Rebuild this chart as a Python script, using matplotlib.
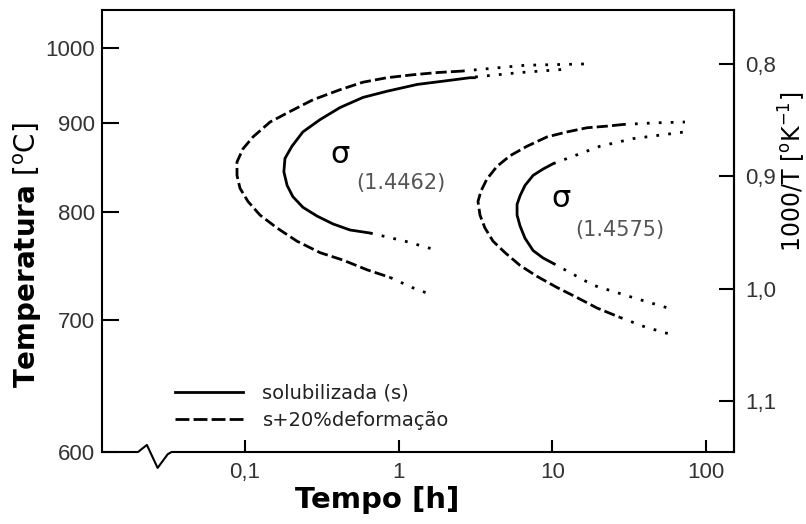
import matplotlib.pyplot as plt
import numpy as np
from matplotlib.lines import Line2D

# TTT curves for sigma phase, time in hours, temperature in deg C
# curve 1 (1.4462)
sol1_t = [3.14, 2.91, 2.06, 1.32, 0.839, 0.586, 0.415, 0.308, 0.238, 0.202, 0.182, 0.179,
          0.188, 0.205, 0.238, 0.294, 0.374, 0.482, 0.651]
sol1_T = [958, 958, 954, 949, 940, 932, 919, 904, 889, 872, 858, 843,
          828, 816, 805, 796, 788, 782, 779]
sol1_up_t = [3.14, 6.15, 13.0]
sol1_up_T = [959, 965, 970]
sol1_lo_t = [0.651, 1.10, 1.80]
sol1_lo_T = [779, 771, 762]

def1_t = [2.58, 1.78, 1.24, 0.839, 0.586, 0.415, 0.277, 0.196, 0.1455, 0.1127, 0.0970,
          0.0887, 0.0887, 0.0928, 0.1046, 0.1252, 0.1615, 0.218, 0.308, 0.434, 0.622, 0.878]
def1_T = [967, 965, 962, 958, 952, 942, 929, 914, 901, 883, 869,
          854, 839, 825, 811, 797, 784, 771, 760, 753, 744, 737]
def1_up_t = [2.58, 6.63, 17.6]
def1_up_T = [967, 975, 977]
def1_lo_t = [0.878, 1.22, 1.67]
def1_lo_T = [737, 728, 721]

# curve 2 (1.4575)
sol2_t = [10.1, 8.69, 7.49, 6.63, 6.16, 5.89, 5.89, 6.16, 6.63, 7.49, 8.69, 10.1]
sol2_T = [852, 846, 839, 828, 817, 808, 797, 786, 774, 762, 755, 750]
sol2_up_t = [10.1, 20.4, 33.5, 72.9]
sol2_up_T = [852, 872, 881, 889]
sol2_lo_t = [10.1, 18.4, 33.5, 56.5]
sol2_lo_T = [750, 730, 719, 710]

def2_t = [28.8, 22.7, 16.8, 12.45, 9.22, 6.83, 5.30, 4.36, 3.75, 3.43, 3.28, 3.38,
          3.64, 4.11, 4.92, 6.16, 7.94, 10.7, 14.5, 19.5, 27.5]
def2_T = [898, 896, 894, 889, 883, 872, 861, 849, 835, 822, 811, 797,
          784, 771, 760, 748, 738, 728, 719, 710, 702]
def2_up_t = [28.8, 46.6, 72.9]
def2_up_T = [898, 900, 901]
def2_lo_t = [27.5, 40.0, 58.2]
def2_lo_T = [702, 694, 688]

temp_ticks = [600, 700, 800, 900, 1000]
inv_ticks = [0.8, 0.9, 1.0, 1.1]
inv_labels = ['0,8', '0,9', '1,0', '1,1']
time_ticks = [0.1, 1, 10, 100]
time_labels = ['0,1', '1', '10', '100']


def invT(temp_c):
    return 1000.0 / (np.asarray(temp_c, dtype=float) + 273.15)


dash = (0, (4, 1.5))
dot = (0, (1, 3.3))
lw = 2.0

fig = plt.figure(figsize=(8.06, 5.24), dpi=100)
ax = fig.add_axes([102 / 806, 72 / 524, 632 / 806, 442 / 524])

ax.plot(sol1_t, invT(sol1_T), color='black', lw=lw, solid_capstyle='round')
ax.plot(def1_t, invT(def1_T), color='black', lw=lw, linestyle=dash)
ax.plot(sol2_t, invT(sol2_T), color='black', lw=lw, solid_capstyle='round')
ax.plot(def2_t, invT(def2_T), color='black', lw=lw, linestyle=dash)
for tt, TT in [(sol1_up_t, sol1_up_T), (sol1_lo_t, sol1_lo_T), (def1_up_t, def1_up_T),
               (def1_lo_t, def1_lo_T), (sol2_up_t, sol2_up_T), (sol2_lo_t, sol2_lo_T),
               (def2_up_t, def2_up_T), (def2_lo_t, def2_lo_T)]:
    ax.plot(tt, invT(TT), color='black', lw=lw, linestyle=dot)

ax.set_xscale('log')
ax.set_xlim(0.01174, 151.9)
ax.set_ylim(invT(600), 0.752)
ax.minorticks_off()

ax.set_xticks(time_ticks, labels=time_labels)
ax.set_yticks(invT(temp_ticks), labels=[str(t) for t in temp_ticks])
ax.tick_params(axis='x', direction='in', length=9, width=1.5, pad=7,
               labelsize=16, labelcolor='#333333', labelfontfamily='Liberation Sans')
ax.tick_params(axis='y', direction='in', length=12, width=1.5, pad=5,
               labelsize=16, labelcolor='#333333', labelfontfamily='Liberation Sans')

sec = ax.secondary_yaxis('right')
sec.set_yticks(inv_ticks, labels=inv_labels)
sec.tick_params(direction='in', length=11, width=1.5, pad=8, labelsize=16,
                labelcolor='#333333', labelfontfamily='Liberation Sans')
sec.spines['right'].set_linewidth(1.5)

for s in ['left', 'top', 'right']:
    ax.spines[s].set_linewidth(1.5)
ax.spines['bottom'].set_visible(False)

# axis break on the time axis
bx = [0.0, 0.057, 0.071, 0.088, 0.104, 0.110, 1.0]
by = [0.0, 0.0, 0.016, -0.036, -0.005, 0.0, 0.0]
ax.plot(bx, by, color='black', lw=1.5, transform=ax.transAxes, clip_on=False)

ax.text(0.415, invT(863), 'σ', fontsize=22, ha='center', va='center')
ax.text(1.035, invT(831), '(1.4462)', fontsize=15, ha='center', va='center', color='#555555')
ax.text(11.4, invT(814), 'σ', fontsize=22, ha='center', va='center')
ax.text(27.5, invT(782), '(1.4575)', fontsize=15, ha='center', va='center', color='#555555')

handles = [Line2D([], [], color='black', lw=lw),
           Line2D([], [], color='black', lw=lw, linestyle=(0, (5, 1.5)))]
leg = ax.legend(handles, ['solubilizada (s)', 's+20%deformação'], loc='upper left',
                bbox_to_anchor=(0.1155, 0.154), frameon=False, fontsize=14,
                handlelength=3.5, handletextpad=1.0, labelspacing=0.4,
                borderpad=0, borderaxespad=0)
for txt in leg.get_texts():
    txt.set_color('#222222')

fig.text(377 / 806, 1 - 500 / 524, 'Tempo [h]', fontsize=21, fontweight='bold',
         ha='center', va='center')
fig.text(28 / 806, 1 - 255 / 524, r'$\mathbf{Temperatura}$ [$^{\mathrm{o}}$C]', fontsize=20,
         rotation=90, ha='center', va='center')
fig.text(792 / 806, 1 - 172 / 524, r'1000/T [$^{\mathrm{o}}$K$^{-1}$]', fontsize=17,
         rotation=90, ha='center', va='center')

fig.savefig('out.png', dpi=100)
